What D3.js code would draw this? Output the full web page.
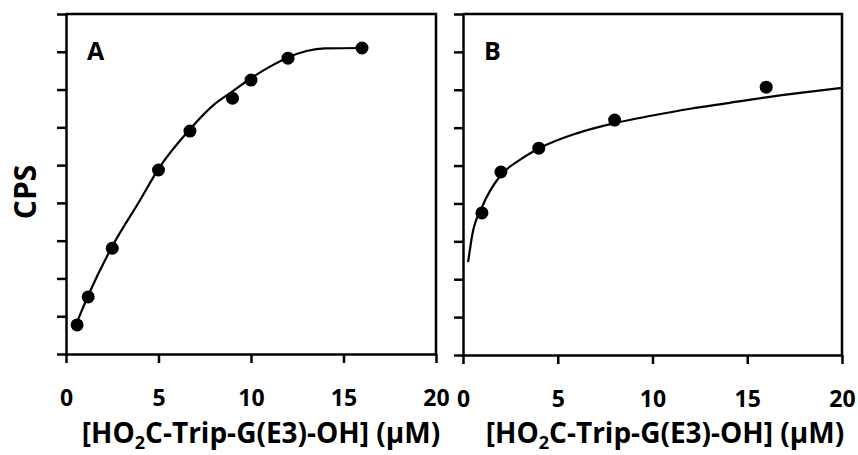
<!DOCTYPE html>
<html>
<head>
<meta charset="utf-8">
<script src="https://cdn.jsdelivr.net/npm/d3@7"></script>
<style>
  html, body { margin: 0; padding: 0; background: #fff; }
  svg { display: block; }
  text { font-family: "Open Sans", sans-serif; font-weight: 700; fill: #000; }
</style>
</head>
<body>
<svg id="chart" width="858" height="455"></svg>
<script>
// Panel A: measured titration points and fitted curve
const concA = [0.6, 1.2, 2.5, 5, 6.7, 9, 10, 12, 16];
const cpsA  = [0.77, 1.51, 2.8, 4.87, 5.9, 6.77, 7.25, 7.83, 8.1];
const fitXA = [0.6, 1.2, 2.5, 4, 5, 6.7, 8, 9, 10, 11, 12, 13, 14, 16];
const fitYA = [0.85, 1.55, 2.85, 4.07, 4.9, 5.95, 6.6, 6.95, 7.3, 7.6, 7.85, 8.02, 8.09, 8.1];

// Panel B: measured points and fitted curve
const concB = [1, 2, 4, 8, 16];
const cpsB  = [3.75, 4.83, 5.46, 6.2, 7.07];
const fitXB = [0.27, 0.5, 1, 2, 3, 4, 6, 8, 10, 12, 14, 16, 18, 20];
const fitYB = [2.45, 3.2, 3.9, 4.75, 5.15, 5.45, 5.85, 6.12, 6.32, 6.5, 6.65, 6.8, 6.93, 7.05];

const xTicks = [0, 5, 10, 15, 20];
const yTicks = [0, 1, 2, 3, 4, 5, 6, 7, 8, 9];
const panelLetters = ["A", "B"];
const xTitle = ["[HO", "2", "C-Trip-G(E3)-OH] (\u00b5M)"];
const yTitle = "CPS";

const svg = d3.select("#chart");

const panels = [
  { left: 66, right: 436, top: 14, bottom: 354, xs: concA, ys: cpsA, fx: fitXA, fy: fitYA, letter: panelLetters[0], titleX: 261, titleY: 443 },
  { left: 463, right: 842, top: 14, bottom: 355, xs: concB, ys: cpsB, fx: fitXB, fy: fitYB, letter: panelLetters[1], titleX: 665, titleY: 443 }
];

panels.forEach(p => {
  const x = d3.scaleLinear().domain([0, 20]).range([p.left, p.right]);
  const y = d3.scaleLinear().domain([0, 9]).range([p.bottom, p.top]);
  const g = svg.append("g");

  // frame (top and right sides)
  g.append("path")
    .attr("d", `M${p.left},${p.top}H${p.right}V${p.bottom}`)
    .attr("fill", "none").attr("stroke", "#000").attr("stroke-width", 2.5);

  // x axis
  const xa = g.append("g").attr("transform", `translate(0,${p.bottom})`)
    .call(d3.axisBottom(x).tickValues(xTicks).tickSize(9).tickPadding(27).tickSizeOuter(0));
  // y axis (no labels)
  const ya = g.append("g").attr("transform", `translate(${p.left},0)`)
    .call(d3.axisLeft(y).tickValues(yTicks).tickSize(9).tickFormat("").tickSizeOuter(0));

  [xa, ya].forEach(a => {
    a.select(".domain").attr("stroke", "#000").attr("stroke-width", 2.5);
    a.selectAll(".tick line").attr("stroke", "#000").attr("stroke-width", 2.5);
  });
  xa.selectAll(".tick text")
    .style("font-family", "'Open Sans', sans-serif")
    .style("font-weight", 700).style("font-size", "23px").attr("fill", "#000");

  // fitted curve
  const line = d3.line().x((d, i) => x(p.fx[i])).y((d, i) => y(p.fy[i])).curve(d3.curveMonotoneX);
  g.append("path").datum(p.fx).attr("d", line)
    .attr("fill", "none").attr("stroke", "#000").attr("stroke-width", 2.2);

  // data points
  g.selectAll("circle.pt").data(p.xs).join("circle")
    .attr("class", "pt")
    .attr("cx", d => x(d)).attr("cy", (d, i) => y(p.ys[i]))
    .attr("r", 6.5).attr("fill", "#000");

  // panel letter
  g.append("text").attr("x", p.left + 21).attr("y", 60)
    .style("font-size", "25px").text(p.letter);

  // x axis title with subscript
  const t = g.append("text").attr("x", p.titleX).attr("y", p.titleY)
    .attr("text-anchor", "middle").style("font-size", "28px");
  t.append("tspan").text(xTitle[0]);
  t.append("tspan").attr("dy", 6).style("font-size", "18px").text(xTitle[1]);
  t.append("tspan").attr("dy", -6).text(xTitle[2]);
});

// y axis title
svg.append("text")
  .attr("transform", "translate(36,192) rotate(-90)")
  .attr("text-anchor", "middle")
  .style("font-size", "30px")
  .text(yTitle);
</script>
</body>
</html>
